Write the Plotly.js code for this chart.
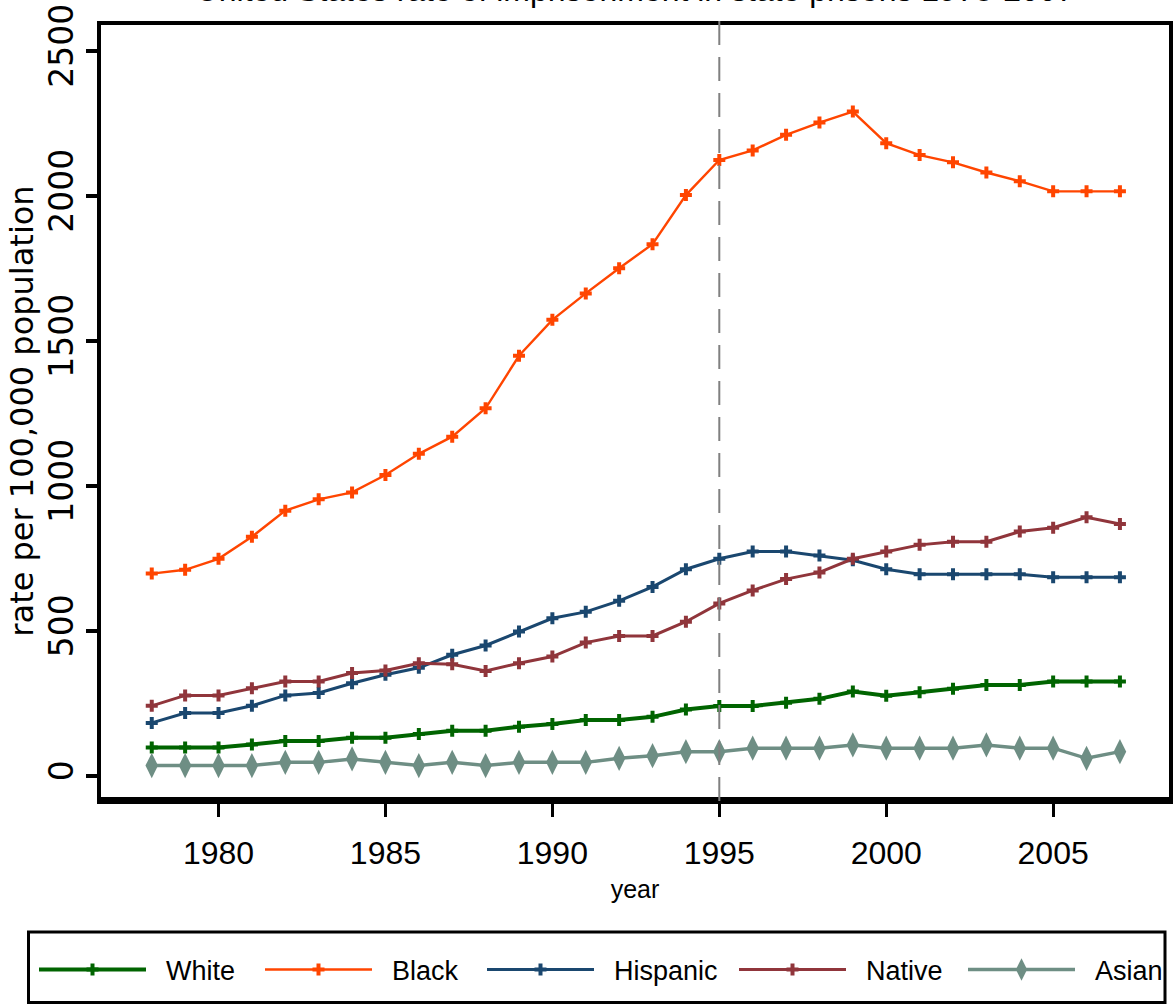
<!DOCTYPE html>
<html><head><meta charset="utf-8">
<script src="https://cdn.plot.ly/plotly-3.0.1.min.js"></script>
<style>html,body{margin:0;padding:0;background:#fff}#chart{width:1173px;height:1004px}</style>
</head><body><div id="chart"></div>
<script>
const years = [1978,1979,1980,1981,1982,1983,1984,1985,1986,1987,1988,1989,1990,1991,1992,1993,1994,1995,1996,1997,1998,1999,2000,2001,2002,2003,2004,2005,2006,2007];
const white = [97,97,97,108,120,120,131,131,144,155,155,169,178,192,192,203,228,240,240,252,265,290,276,288,300,313,313,325,325,325];
const black = [697,710,748,824,914,953,977,1037,1110,1169,1267,1448,1572,1663,1750,1833,2002,2123,2156,2210,2252,2290,2181,2140,2115,2080,2050,2015,2015,2015];
const hispanic = [182,216,216,241,277,285,319,348,372,417,449,497,543,565,603,651,712,748,773,773,759,743,712,695,695,695,695,684,684,684];
const native = [241,277,277,302,325,325,354,363,388,384,361,388,411,459,482,482,531,594,639,678,701,748,773,796,807,807,842,855,891,868];
const asian = [35,35,35,35,46,46,58,46,35,46,35,46,46,46,60,69,83,83,95,95,95,106,95,95,95,106,95,95,60,83];
const seriesNames = ['White','Black','Hispanic','Native','Asian'];
const referenceYear = 1995;
const xTickValues = [1980,1985,1990,1995,2000,2005];
const yTickValues = [0,500,1000,1500,2000,2500];

const sans = '"Liberation Sans", Arial, sans-serif';
const wide = '"DejaVu Sans", "Liberation Sans", sans-serif';
const NB = '\u00a0\u00a0';

function series(name, y, color, width, symbol, size, legendWidth) {
  return {
    type: 'scatter', mode: 'lines+markers', name: NB + name, x: years, y: y,
    line: {color: color, width: width},
    marker: {color: color, symbol: symbol, size: size},
    legendwidth: legendWidth,
    cliponaxis: false
  };
}

const data = [
  series(seriesNames[0], white, '#006400', 4, 'cross', 10, 104),
  series(seriesNames[1], black, '#ff4500', 2.4, 'cross', 10, 100),
  series(seriesNames[2], hispanic, '#1a476f', 3, 'cross', 10, 130),
  series(seriesNames[3], native, '#90353b', 3, 'cross', 10, 107),
  series(seriesNames[4], asian, '#6e8e84', 3.5, 'diamond-tall', 18, 80)
];

const W = 1173, H = 1004, L = 101, R = 4, T = 25, B = 207;
const pw = W - L - R, ph = H - T - B;
const px = v => (v - L) / pw;
const py = v => (H - B - v) / ph;

const layout = {
  width: W, height: H,
  margin: {l: L, r: R, t: T, b: B, pad: 0},
  paper_bgcolor: '#fff', plot_bgcolor: '#fff',
  font: {family: sans, color: '#000'},
  showlegend: true,
  title: {
    text: 'United States rate of imprisonment in state prisons 1978-2007',
    font: {family: sans, size: 32, color: '#000'},
    x: 0.5, xref: 'paper', xanchor: 'center',
    y: 1 - 1 / H, yref: 'container', yanchor: 'bottom'
  },
  xaxis: {
    range: [1976.48, 2008.47],
    tickvals: xTickValues,
    ticks: 'outside', ticklen: 13, tickwidth: 3, tickcolor: '#000',
    tickfont: {family: sans, size: 32, color: '#000'},
    ticklabelstandoff: 9,
    showline: true, linewidth: 7, linecolor: '#000', mirror: false,
    showgrid: false, zeroline: false,
    title: {text: 'year', font: {family: sans, size: 25, color: '#000'}, standoff: 13}
  },
  yaxis: {
    range: [-73.4, 2588.6],
    tickvals: yTickValues,
    ticks: 'outside', ticklen: 11, tickwidth: 4, tickcolor: '#000',
    tickangle: -90,
    tickfont: {family: wide, size: 33, color: '#000'},
    showline: true, linewidth: 4, linecolor: '#000', mirror: true,
    showgrid: false, zeroline: false,
    title: {text: 'rate per 100,000 population', font: {family: wide, size: 32, color: '#000'}, standoff: 0}
  },
  legend: {
    orientation: 'h',
    x: px(34), xanchor: 'left',
    y: py(970), yanchor: 'middle',
    font: {family: sans, size: 27, color: '#000'},
    itemwidth: 107,
    entrywidthmode: 'pixels',
    bgcolor: 'rgba(0,0,0,0)', borderwidth: 0
  },
  shapes: [
    {type: 'line', xref: 'x', yref: 'paper', x0: referenceYear, x1: referenceYear,
     y0: py(21), y1: py(804), line: {color: '#808080', width: 2, dash: '24px,12px'}, layer: 'above'},
    {type: 'line', xref: 'paper', yref: 'paper', x0: px(97), x1: px(1173), y0: py(23), y1: py(23),
     line: {color: '#000', width: 4}, layer: 'below'},
    {type: 'rect', xref: 'paper', yref: 'paper', x0: px(28.5), x1: px(1165), y0: py(932), y1: py(1002.5),
     line: {color: '#000', width: 3}, fillcolor: 'rgba(0,0,0,0)'}
  ]
};

Plotly.newPlot('chart', data, layout, {displayModeBar: false, staticPlot: true});
</script>
</body></html>
